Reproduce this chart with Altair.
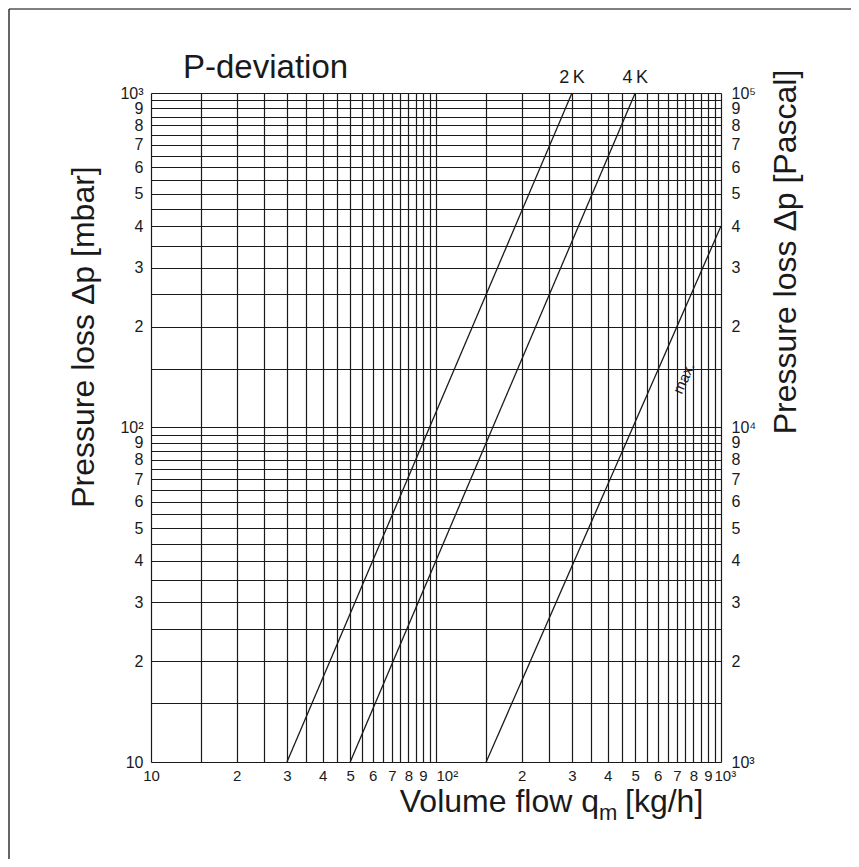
import altair as alt
import pandas as pd
import json

# ---- data ----
series = ["2K", "4K", "max."]
flow_start = [30, 50, 150]
dp_start = [10, 10, 10]
flow_end = [300, 500, 1000]
dp_end = [1000, 1000, 400]
top_label_text = ["2\u2009K", "4\u2009K"]

x_grid = list(range(10, 100, 5)) + list(range(100, 1001, 50))
y_grid = list(range(10, 100, 5)) + list(range(100, 1001, 50))

tick_vals = [10, 20, 30, 40, 50, 60, 70, 80, 90, 100, 200, 300, 400, 500, 600, 700, 800, 900, 1000]
x_tick_text = ["10", "2", "3", "4", "5", "6", "7", "8", "9", "10²", "2", "3", "4", "5", "6", "7", "8", "9", "10³"]
left_tick_text = ["10", "2", "3", "4", "5", "6", "7", "8", "9", "10²", "2", "3", "4", "5", "6", "7", "8", "9", "10³"]
right_tick_text = ["10³", "2", "3", "4", "5", "6", "7", "8", "9", "10⁴", "2", "3", "4", "5", "6", "7", "8", "9", "10⁵"]

max_label_flow = [668]
max_label_dp = [146]

FONT = "Liberation Sans"
W, H = 570, 669
INK = "#1a1a1a"


def label_expr(vals, texts):
    v = json.dumps(vals)
    t = json.dumps(texts, ensure_ascii=False)
    return f"indexof({v}, datum.value) >= 0 ? {t}[indexof({v}, datum.value)] : ''"


lines_df = pd.DataFrame({"series": series, "x": flow_start, "y": dp_start,
                         "x2": flow_end, "y2": dp_end})
top_df = pd.DataFrame({"label": top_label_text, "x": flow_end[:2], "y": dp_end[:2]})

xscale = alt.Scale(type="log", domain=[10, 1000], nice=False)
yscale = alt.Scale(type="log", domain=[10, 1000], nice=False)

x_axis = alt.Axis(values=x_grid, grid=True, gridColor=INK, gridWidth=1.2, gridOpacity=1,
                  ticks=False, domain=False, labelExpr=label_expr(tick_vals, x_tick_text),
                  labelOffset={"condition": {"test": "datum.value == 1000", "value": -7},
                               "value": 0},
                  labelOverlap=False, labelFlush=False, labelFont=FONT, labelFontSize=15,
                  labelColor=INK, labelPadding=6, title=None)
x_axis["labelAlign"] = {"condition": {"test": "datum.value == 100 || datum.value == 1000",
                                      "value": "left"}, "value": "center"}

y_axis_left = alt.Axis(values=y_grid, grid=True, gridColor=INK, gridWidth=1.2, gridOpacity=1,
                       ticks=False, domain=False, labelExpr=label_expr(tick_vals, left_tick_text),
                       labelOverlap=False, labelFlush=False, labelFont=FONT, labelFontSize=16,
                       labelColor=INK, labelPadding=8, title=None, orient="left")
y_axis_right = alt.Axis(values=y_grid, grid=False, ticks=False, domain=False,
                        labelExpr=label_expr(tick_vals, right_tick_text),
                        labelOverlap=False, labelFlush=False, labelFont=FONT, labelFontSize=16,
                        labelColor=INK, labelPadding=10, title=None, orient="right")

lines = alt.Chart(lines_df).mark_rule(color=INK, strokeWidth=1.3).encode(
    x=alt.X("x:Q", scale=xscale, axis=x_axis),
    x2="x2:Q",
    y=alt.Y("y:Q", scale=yscale, axis=y_axis_left),
    y2="y2:Q",
)

top_labels = alt.Chart(top_df).mark_text(
    font=FONT, fontSize=18, color=INK, dy=-15, baseline="middle"
).encode(
    x=alt.X("x:Q", scale=xscale),
    y=alt.Y("y:Q", scale=yscale, axis=y_axis_right),
    text="label:N",
)

max_df = pd.DataFrame({"series": ["max."], "x": max_label_flow, "y": max_label_dp})
max_label = alt.Chart(max_df).mark_text(
    font=FONT, fontSize=15, color=INK, angle=294, dy=14, baseline="middle"
).encode(
    x=alt.X("x:Q", scale=xscale),
    y=alt.Y("y:Q", scale=yscale, axis=None),
    text="series:N",
)

one = alt.Data(values=[{}])


def note(text, x, y, size, angle=0, align="left", baseline="alphabetic"):
    return alt.Chart(one).mark_text(
        font=FONT, fontSize=size, color=INK, angle=angle, align=align, baseline=baseline
    ).encode(x=alt.value(x), y=alt.value(y), text=alt.value(text))


title = note("P-deviation", 32, -15, 33)
left_title = note("Pressure loss Δp [mbar]", -67, 244, 32, angle=270, align="center", baseline="middle")
right_title = note("Pressure loss Δp [Pascal]", 635, 159, 32, angle=270, align="center", baseline="middle")
bt1 = note("Volume flow q", 448, 719, 32, align="right")
bt2 = note("m", 448, 727, 22)
bt3 = note("[kg/h]", 474, 719, 32)

frame_top = alt.Chart(one).mark_rule(color="#555", strokeWidth=1.5).encode(
    x=alt.value(-142), x2=alt.value(700), y=alt.value(-84)
)
frame_left = alt.Chart(one).mark_rule(color="#333", strokeWidth=1.5).encode(
    x=alt.value(-142), y=alt.value(-84), y2=alt.value(774)
)

chart = alt.layer(
    lines, top_labels, max_label, title, left_title, right_title, bt1, bt2, bt3,
    frame_top, frame_left
).resolve_scale(y="independent").properties(
    width=W, height=H,
    autosize=alt.AutoSizeParams(type="none"),
    padding={"left": 143, "top": 85, "right": 130, "bottom": 97},
).configure_view(stroke=INK, strokeWidth=1.5).configure(background="white")

chart.save("out.html", embed_options={"renderer": "svg", "actions": False})
